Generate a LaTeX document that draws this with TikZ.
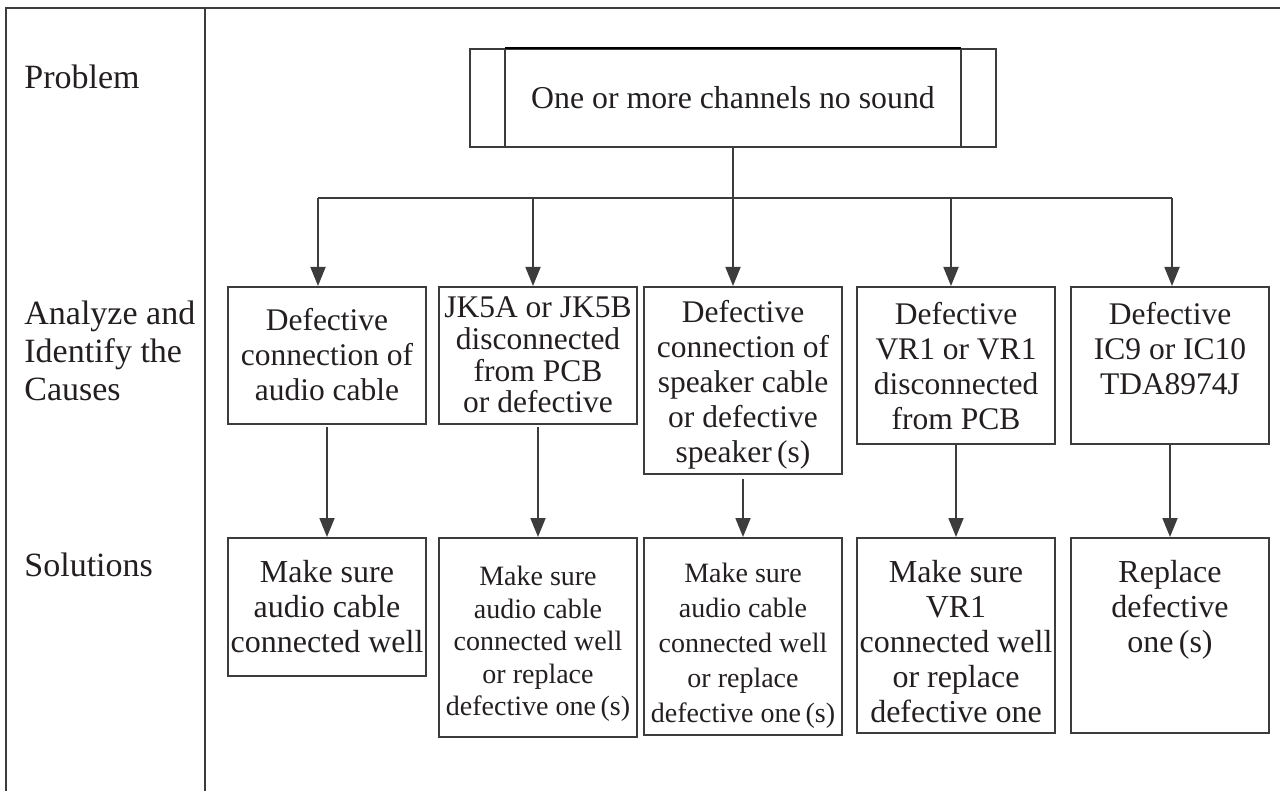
\documentclass[tikz,border=0pt]{standalone}
\usepackage{fontspec}
\setmainfont{Liberation Serif}
\usetikzlibrary{arrows.meta,calc}
\definecolor{linec}{RGB}{60,60,60}
\definecolor{textc}{RGB}{35,31,32}
\newcommand{\causefont}{\fontsize{15.75}{17.5}\selectfont}
\newcommand{\tightfont}{\fontsize{15.75}{15.75}\selectfont}
\newcommand{\bigfont}{\fontsize{16}{17.5}\selectfont}
\newcommand{\smallfont}{\fontsize{14}{17.5}\selectfont}
\newcommand{\smalltight}{\fontsize{14}{16.25}\selectfont}
\newcommand{\labfont}{\fontsize{17}{19}\selectfont}
\newcommand{\lines}[1]{\begin{tabular}[t]{@{}c@{}}#1\end{tabular}}
\newcommand{\llines}[1]{\begin{tabular}[t]{@{}l@{}}#1\end{tabular}}
\begin{document}
\begin{tikzpicture}[x=0.5pt,y=-0.5pt,
  frame/.style={draw=linec, line width=1pt},
  box/.style={draw=linec, line width=0.9pt, minimum width=99pt, inner sep=0pt,
    anchor=north, text=textc, font=\causefont},
  lab/.style={anchor=base west, inner sep=0pt, text=textc, font=\labfont},
  conn/.style={draw=linec, line width=0.9pt},
  arr/.style={conn, -{Triangle[width=7.5pt,length=9.5pt]}}]
\useasboundingbox (0,0) rectangle (1280,791);
% frame
\coordinate (ftl) at (6,8);
\coordinate (ftr) at (1280,8);
\coordinate (fbl) at (6,791);
\coordinate (dvt) at (205,8);
\coordinate (dvb) at (205,791);
\draw[frame] (fbl) -- (ftl) -- (ftr);
\draw[frame] (dvt) -- (dvb);
% row labels
\node[lab] (lprob) at (24,89) {Problem};
\node[lab] (lana) at (24,325) {\llines{Analyze and\\Identify the\\Causes}};
\node[lab] (lsol) at (24,576) {Solutions};
% problem box
\node[box, minimum width=263pt, text height=30pt, text depth=19pt,
  font=\fontsize{15.9}{17.5}\selectfont] (top) at (733,48) {One or more channels no sound};
\draw[conn] ([xshift=18pt]top.north west) -- ([xshift=18pt]top.south west);
\draw[conn] ([xshift=-18pt]top.north east) -- ([xshift=-18pt]top.south east);
\draw[draw=black, line width=1.3pt] ([xshift=18pt]top.north west) -- ([xshift=-18pt]top.north east);
% causes
\node[box, text height=22pt, text depth=46.5pt] (c1) at (327,286)
  {\lines{Defective\\connection of\\audio cable}};
\node[box, text height=15.5pt, text depth=53pt, font=\tightfont] (c2) at (538,286)
  {\lines{JK5A or JK5B\\disconnected\\from PCB\\or defective}};
\node[box, text height=18pt, text depth=75.5pt] (c3) at (743,286)
  {\lines{Defective\\connection of\\speaker cable\\or defective\\speaker\,(s)}};
\node[box, text height=19pt, text depth=59.5pt] (c4) at (956,286)
  {\lines{Defective\\VR1 or VR1\\disconnected\\from PCB}};
\node[box, text height=19pt, text depth=59.5pt] (c5) at (1170,286)
  {\lines{Defective\\IC9 or IC10\\TDA8974J}};
% solutions
\node[box, text height=22.5pt, text depth=46.5pt, font=\bigfont] (s1) at (327,537)
  {\lines{Make sure\\audio cable\\connected well}};
\node[box, text height=24pt, text depth=75.5pt, font=\smalltight] (s2) at (538,537)
  {\lines{Make sure\\audio cable\\connected well\\or replace\\defective one\,(s)}};
\node[box, text height=22.5pt, text depth=76pt, font=\smallfont] (s3) at (743,537)
  {\lines{Make sure\\audio cable\\connected well\\or replace\\defective one\,(s)}};
\node[box, text height=22.5pt, text depth=75pt, font=\bigfont] (s4) at (956,537)
  {\lines{Make sure\\VR1\\connected well\\or replace\\defective one}};
\node[box, text height=22.5pt, text depth=75pt, font=\bigfont] (s5) at (1170,537)
  {\lines{Replace\\defective\\one\,(s)}};
% connectors
\coordinate (b1) at (318,198);
\coordinate (b2) at (533,198);
\coordinate (b3) at (733,198);
\coordinate (b4) at (951,198);
\coordinate (b5) at (1172,198);
\draw[conn] (top.south) -- (b3);
\draw[conn] (b1) -- (b5);
\draw[arr] (b1) -- (b1 |- c1.north);
\draw[arr] (b2) -- (b2 |- c2.north);
\draw[arr] (b3) -- (b3 |- c3.north);
\draw[arr] (b4) -- (b4 |- c4.north);
\draw[arr] (b5) -- (b5 |- c5.north);
\draw[arr] ([yshift=-1pt]c1.south) -- (s1.north);
\draw[arr] ([yshift=-1pt]c2.south) -- (s2.north);
\draw[arr] ([yshift=-2pt]c3.south) -- (s3.north);
\draw[arr] (c4.south) -- (s4.north);
\draw[arr] (c5.south) -- (s5.north);
\end{tikzpicture}
\end{document}
